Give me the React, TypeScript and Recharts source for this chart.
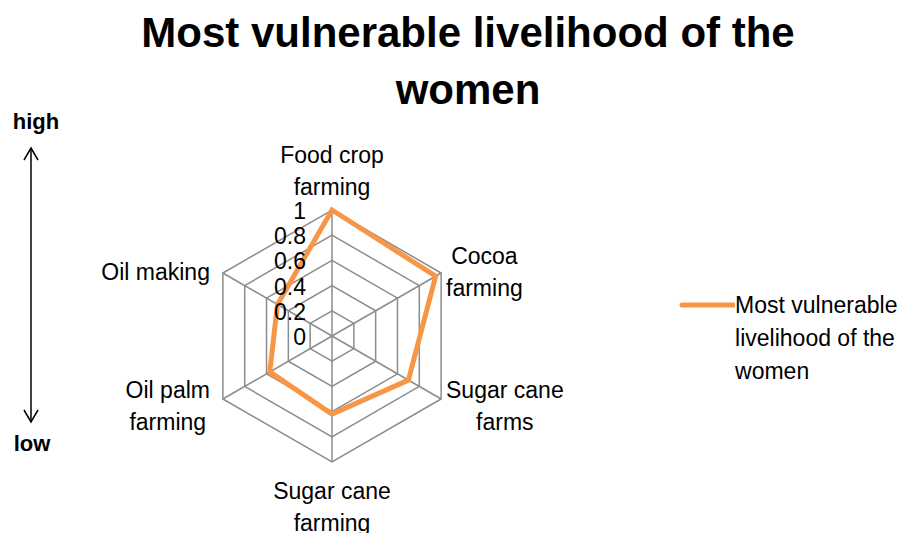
import React from 'react';
import { RadarChart, Radar, PolarGrid, PolarAngleAxis, PolarRadiusAxis, Legend } from 'recharts';

const categories = [
  'Food crop farming',
  'Cocoa farming',
  'Sugar cane farms',
  'Sugar cane farming',
  'Oil palm farming',
  'Oil making',
];
const values = [1, 0.95, 0.7, 0.62, 0.57, 0.5];
const radiusTicks = [0, 0.2, 0.4, 0.6, 0.8, 1];
const seriesName = 'Most vulnerable livelihood of the women';

const labelLines: Record<string, string[]> = {
  'Food crop farming': ['Food crop', 'farming'],
  'Cocoa farming': ['Cocoa', 'farming'],
  'Sugar cane farms': ['Sugar cane', 'farms'],
  'Sugar cane farming': ['Sugar cane', 'farming'],
  'Oil palm farming': ['Oil palm', 'farming'],
  'Oil making': ['Oil making'],
};

const data = categories.map((c, i) => ({ name: c, value: values[i] }));

const FONT = '"Liberation Sans", Arial, sans-serif';
const FS = 23;
const ORANGE = '#F79646';
const CX = 332;
const CY = 336;

let ctx: CanvasRenderingContext2D | null = null;
const textWidth = (s: string) => {
  if (!ctx) ctx = document.createElement('canvas').getContext('2d');
  if (!ctx) return s.length * FS * 0.5;
  ctx.font = `${FS}px ${FONT}`;
  return ctx.measureText(s).width;
};

const AngleTick = (props: any) => {
  const { x, y, payload } = props;
  const lines = labelLines[payload.value] || [payload.value];
  const lh = 32;
  const dx = x - CX;
  const dy = y - CY;
  let px = x;
  let py = y;
  if (Math.abs(dx) < 5) {
    // top or bottom label
    if (dy < 0) py = y - 15 - (lines.length - 1) * lh;
    else py = y + 21;
  } else {
    const w = Math.max(...lines.map(textWidth));
    px = dx > 0 ? x + w / 2 - 2 : x - 6 - w / 2;
    py = y + 3 - ((lines.length - 1) * lh) / 2;
  }
  return (
    <text x={px} y={py} textAnchor="middle" fontFamily={FONT} fontSize={FS} fill="#000">
      {lines.map((l, i) => (
        <tspan key={i} x={px} y={py + i * lh} dy="0.35em">
          {l}
        </tspan>
      ))}
    </text>
  );
};

const RadiusTick = (props: any) => {
  const { x, y, payload } = props;
  return (
    <text x={x - 26} y={y + 1} textAnchor="end" dy="0.35em" fontFamily={FONT} fontSize={FS} fill="#000">
      {payload.value}
    </text>
  );
};

const LegendContent = () => (
  <div style={{ display: 'flex', alignItems: 'flex-start', fontFamily: FONT, fontSize: FS, color: '#000' }}>
    <svg width={58} height={20} style={{ marginTop: 7 }}>
      <line x1={4} y1={9} x2={56} y2={9} stroke={ORANGE} strokeWidth={5} strokeLinecap="round" />
    </svg>
    <div style={{ lineHeight: '33px', width: 190, whiteSpace: 'nowrap' }}>
      Most vulnerable
      <br />
      livelihood of the
      <br />
      women
    </div>
  </div>
);

export default function App() {
  return (
    <div style={{ position: 'absolute', left: 0, top: 0, width: 922, height: 533, background: '#fff', overflow: 'hidden' }}>
      <div
        style={{
          position: 'absolute',
          left: 0,
          top: 4,
          width: 936,
          textAlign: 'center',
          fontFamily: FONT,
          fontWeight: 'bold',
          fontSize: 42,
          lineHeight: '57px',
          color: '#000',
        }}
      >
        Most vulnerable livelihood of the
        <br />
        women
      </div>
      <svg width={80} height={460} style={{ position: 'absolute', left: 0, top: 100 }}>
        <text x={36} y={29} textAnchor="middle" fontFamily={FONT} fontWeight="bold" fontSize={22}>
          high
        </text>
        <line x1={31} y1={48} x2={31} y2={322} stroke="#000" strokeWidth={1.5} />
        <polyline points="24,60 31,48 38,60" fill="none" stroke="#000" strokeWidth={1.5} />
        <polyline points="24,310 31,322 38,310" fill="none" stroke="#000" strokeWidth={1.5} />
        <text x={32} y={351} textAnchor="middle" fontFamily={FONT} fontWeight="bold" fontSize={22}>
          low
        </text>
      </svg>
      <div style={{ position: 'absolute', left: 0, top: 0 }}>
        <RadarChart
          width={922}
          height={533}
          data={data}
          cx={CX}
          cy={CY}
          outerRadius={126}
          startAngle={90}
          endAngle={-270}
          margin={{ top: 0, right: 0, bottom: 0, left: 0 }}
        >
          <PolarGrid gridType="polygon" stroke="#8C8C8C" strokeWidth={1.5} />
          <PolarAngleAxis dataKey="name" tick={<AngleTick />} tickLine={false} axisLine={false} />
          <PolarRadiusAxis
            angle={90}
            domain={[0, 1]}
            ticks={radiusTicks as any}
            tick={<RadiusTick />}
            axisLine={false}
            tickLine={false}
          />
          <Radar
            name={seriesName}
            dataKey="value"
            stroke={ORANGE}
            strokeWidth={5}
            fill="none"
            fillOpacity={0}
            dot={false}
            isAnimationActive={false}
          />
          <Legend
            content={<LegendContent />}
            wrapperStyle={{ position: 'absolute', left: 678, top: 289, width: 244 }}
          />
        </RadarChart>
      </div>
    </div>
  );
}
